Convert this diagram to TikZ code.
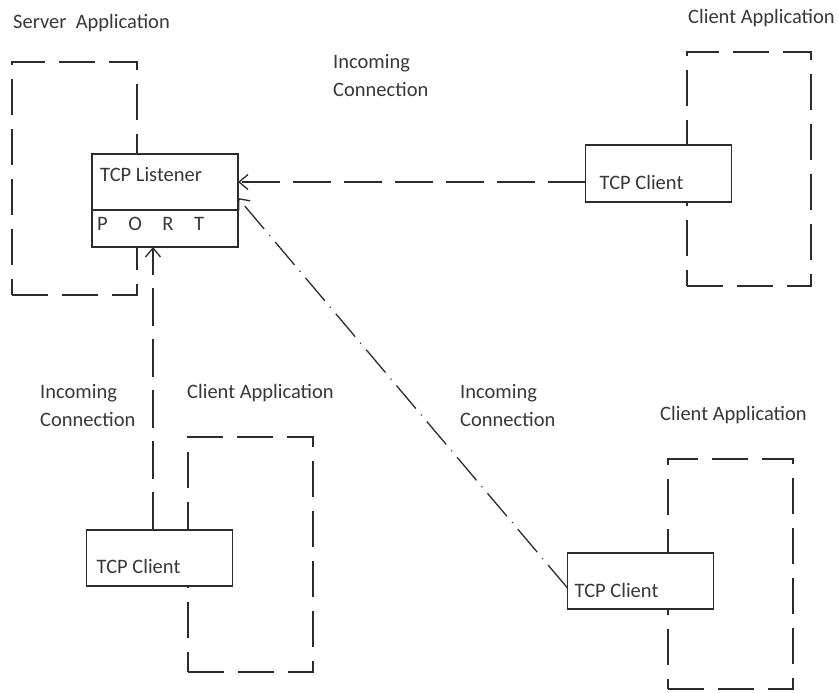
\documentclass[tikz,border=0pt]{standalone}
\usepackage{fontspec}
\setmainfont{Carlito}
\usepackage{tikz}
\usetikzlibrary{positioning, calc, arrows.meta}
\definecolor{ink}{HTML}{2C2C2C}
\definecolor{inktext}{HTML}{383838}

\tikzset{
  txt/.style={font=\fontsize{20.5}{28}\selectfont, text=inktext, inner sep=0pt, align=left},
  tcpbox/.style={draw=ink, fill=white, line width=1.3pt, minimum width=146pt, inner sep=0pt, outer sep=0pt},
  appbox/.style={draw=ink, line width=1.3pt, dash pattern=on 36pt off 14pt, inner sep=0pt},
  flow/.style={draw=ink, line width=1.3pt, dash pattern=on 38pt off 13pt,
    -{Straight Barb[length=9pt,width=15pt]}},
}

\begin{document}
\begin{tikzpicture}[x=1pt, y=-1pt]
    \useasboundingbox[fill=white] (0,0) rectangle (839,693);

    % application frames
    \node[appbox, minimum width=125pt, minimum height=233pt] (srvapp) at (74.5,178.5) {};
    \node[appbox, minimum width=124pt, minimum height=234pt] (app1) at (749,169) {};
    \node[appbox, minimum width=125pt, minimum height=235pt] (app2) at (250.5,554.5) {};
    \node[appbox, minimum width=125pt, minimum height=230pt] (app3) at (730.5,574) {};

    \node[txt, anchor=west] (srvlbl) at (13,23) {Server~~Application};
    \node[txt, anchor=west] (app1lbl) at (688,18) {Client Application};
    \node[txt, anchor=west] (app2lbl) at (187,393) {Client Application};
    \node[txt, anchor=west] (app3lbl) at (660,415) {Client Application};

    % listener and clients
    \node[tcpbox, minimum height=56pt] (lstn) at (165,182) {};
    \node[tcpbox, minimum height=37pt, below=0pt of lstn] (port) {};
    \node[tcpbox, minimum height=57pt] (cl1) at (658.5,173.5) {};
    \node[tcpbox, minimum height=56pt] (cl2) at (159.5,558) {};
    \node[tcpbox, minimum height=56pt] (cl3) at (640.5,581) {};

    \node[txt, anchor=west] (lstntxt) at ([xshift=8pt,yshift=7pt]lstn.west) {TCP Listener};
    \node[txt, anchor=west] (porttxt) at ([xshift=5pt,yshift=5pt]port.west) {P\quad O\quad R\quad T};
    \node[txt, anchor=west] (cl1txt) at ([xshift=14pt,yshift=-8.5pt]cl1.west) {TCP Client};
    \node[txt, anchor=west] (cl2txt) at ([xshift=10pt,yshift=-8pt]cl2.west) {TCP Client};
    \node[txt, anchor=west] (cl3txt) at ([xshift=7pt,yshift=-9pt]cl3.west) {TCP Client};

    \node[txt, anchor=west] (in1) at (333,76) {Incoming\\Connection};
    \node[txt, anchor=west] (in2) at (40,406) {Incoming\\Connection};
    \node[txt, anchor=west] (in3) at (460,405.5) {Incoming\\Connection};

    % incoming connections
    \path ([xshift=-6.5pt]cl2.north) coordinate (cl2up);
    \draw[flow] (cl1.west |- lstn.east) -- (lstn.east);
    \draw[flow] (cl2up) -- (cl2up |- port.south);
    \draw[flow, dash pattern=on 30pt off 8pt on 1pt off 8pt]
        ([yshift=-7pt]cl3.west) -- ([yshift=-16pt]lstn.east);
\end{tikzpicture}
\end{document}
